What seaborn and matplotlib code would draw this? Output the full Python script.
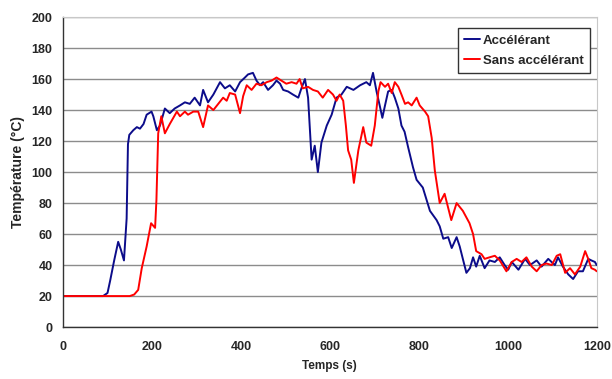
import pandas as pd
import matplotlib
matplotlib.use("Agg")
import matplotlib.pyplot as plt
import seaborn as sns

# courbe avec accélérant (temps en s, température en °C)
t_acc = [0, 60, 90, 100, 106, 115, 124, 130, 137, 143, 146, 149, 158, 166, 173, 181, 188,
         199, 203, 211, 218, 229, 240, 251, 263, 274, 285, 296, 308, 315, 326, 338, 353,
         364, 375, 387, 398, 409, 416, 427, 435, 443, 450, 461, 472, 480, 488, 495, 506,
         517, 529, 536, 544, 551, 559, 566, 573, 581, 593, 604, 615, 626, 638, 653, 668,
         682, 690, 697, 705, 712, 718, 724, 731, 739, 746, 754, 761, 768, 776, 787, 795,
         809, 825, 840, 847, 855, 866, 874, 885, 892, 899, 907, 915, 922, 929, 937, 948,
         959, 971, 982, 993, 1001, 1009, 1024, 1039, 1050, 1065, 1076, 1091, 1106, 1113,
         1124, 1136, 1147, 1158, 1169, 1181, 1188, 1196, 1200]
T_acc = [20, 20, 20, 22, 30, 43, 55, 50, 43, 70, 118, 124, 127, 129, 128, 131, 137,
         139, 136, 127, 130, 141, 138, 141, 143, 145, 144, 148, 143, 153, 145, 150, 158,
         154, 156, 152, 158, 161, 163, 164, 159, 156, 158, 153, 156, 159, 157, 153, 152,
         150, 148, 154, 160, 148, 108, 117, 100, 119, 130, 137, 148, 150, 155, 153, 156,
         158, 156, 164, 152, 143, 135, 143, 152, 153, 148, 141, 130, 126, 116, 103, 95,
         90, 75, 69, 65, 57, 58, 51, 58, 52, 44, 35, 38, 45, 39, 46, 38,
         43, 42, 45, 40, 37, 42, 37, 44, 40, 43, 39, 44, 40, 45,
         39, 34, 31, 36, 36, 44, 43, 42, 40]

# courbe sans accélérant
t_sans = [0, 100, 150, 160, 169, 177, 188, 198, 207, 210, 214, 221, 229, 240, 248, 256,
          263, 274, 281, 293, 304, 315, 326, 338, 349, 360, 368, 375, 387, 398, 405, 413,
          424, 435, 446, 458, 469, 480, 491, 502, 514, 525, 532, 539, 551, 562, 573, 584,
          596, 607, 615, 622, 630, 636, 641, 648, 654, 664, 675, 682, 693, 701, 709, 714,
          724, 731, 739, 746, 754, 761, 769, 776, 784, 795, 802, 814, 821, 829, 836, 847,
          858, 873, 885, 899, 914, 922, 929, 941, 948, 959, 971, 982, 997, 1009, 1020,
          1031, 1042, 1054, 1065, 1076, 1087, 1099, 1110, 1118, 1129, 1140, 1151, 1163,
          1174, 1181, 1188, 1196, 1200]
T_sans = [20, 20, 20, 21, 24, 38, 52, 67, 64, 82, 125, 136, 125, 131, 135, 139,
          136, 139, 137, 139, 139, 129, 143, 140, 144, 148, 146, 151, 150, 138, 149, 156,
          153, 157, 156, 158, 159, 161, 159, 157, 158, 157, 160, 154, 155, 153, 152, 148,
          153, 150, 146, 150, 146, 130, 114, 108, 93, 114, 129, 119, 117, 130, 152, 158,
          155, 157, 151, 158, 155, 150, 144, 145, 143, 148, 143, 139, 136, 122, 101, 80,
          86, 69, 80, 75, 67, 60, 49, 47, 44, 45, 46, 43, 36, 42, 44,
          42, 45, 39, 36, 40, 41, 40, 46, 47, 35, 38, 34, 39,
          49, 44, 38, 37, 36]

df = pd.concat([
    pd.DataFrame({"Temps": t_acc, "Temp": T_acc, "Essai": "Accélérant"}),
    pd.DataFrame({"Temps": t_sans, "Temp": T_sans, "Essai": "Sans accélérant"}),
])

sns.set_style("white")
plt.rcParams["font.family"] = ["Liberation Sans", "DejaVu Sans"]

fig = plt.figure(figsize=(6.12, 3.79), dpi=100)
ax = fig.add_axes([0.103, 0.137, 0.872, 0.818])

sns.lineplot(data=df, x="Temps", y="Temp", hue="Essai", sort=False,
             palette={"Accélérant": "#0c0c8a", "Sans accélérant": "#ff0000"},
             linewidth=1.4, ax=ax, legend=True)

ax.set_xlim(0, 1200)
ax.set_ylim(0, 200)
ax.set_xticks(range(0, 1201, 200))
ax.set_yticks(range(0, 201, 20))
ax.yaxis.grid(True, color="#8c8c8c", linewidth=1.0)
ax.set_axisbelow(True)

for s in ["top", "right"]:
    ax.spines[s].set_color("#c8c8c8")
for s in ["left", "bottom"]:
    ax.spines[s].set_color("#333333")
    ax.spines[s].set_linewidth(1.0)

ax.tick_params(axis="both", direction="out", length=4, width=1, color="#333333",
               labelsize=9)
for lab in ax.get_xticklabels() + ax.get_yticklabels():
    lab.set_fontweight("bold")
ax.xaxis.set_tick_params(pad=6)

ax.set_xlabel("Temps (s)", fontsize=8.5, fontweight="bold", labelpad=5)
ax.set_ylabel("Température (°C)", fontsize=10, fontweight="bold", labelpad=5)

leg = ax.legend(loc="upper right", bbox_to_anchor=(0.988, 0.965), frameon=True,
                fancybox=False, framealpha=1, edgecolor="#333333",
                prop={"weight": "bold", "size": 9.5}, handlelength=1.2,
                handletextpad=0.2, borderpad=0.5, labelspacing=0.6,
                borderaxespad=0.0)
leg.get_frame().set_linewidth(1.0)

fig.savefig("out.png", dpi=100)
